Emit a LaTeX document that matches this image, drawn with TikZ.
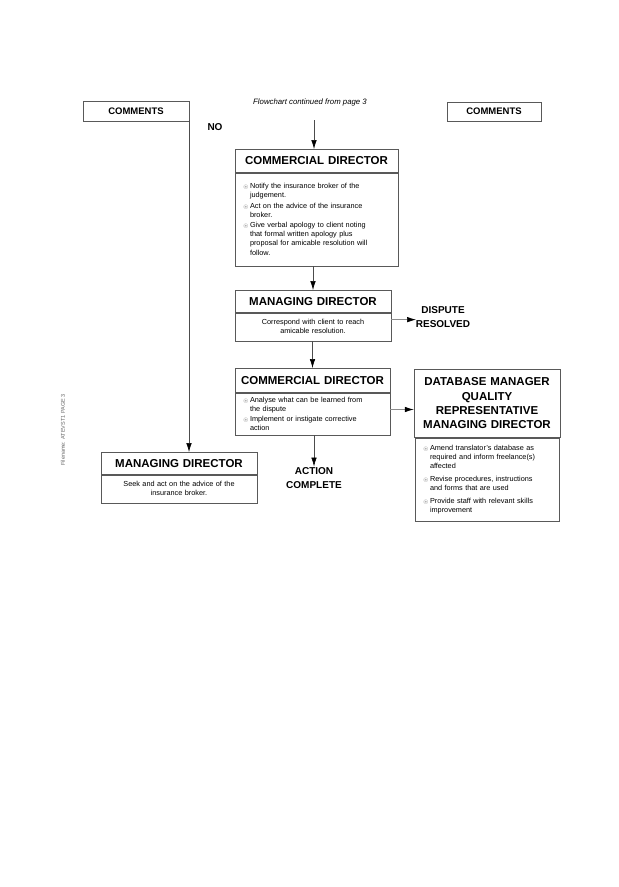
\documentclass[tikz,border=0pt]{standalone}
\usepackage{fontspec}
\setmainfont{Liberation Sans}
\usepackage{amssymb}
\usetikzlibrary{arrows.meta,calc,positioning}

\newcommand{\headfont}{\fontsize{11.5}{14.3}\selectfont\bfseries}
\newcommand{\bodyfont}{\fontsize{7.3}{9.2}\selectfont}
\newcommand{\bul}{{\color{black!55}$\scriptstyle\circledast$}}
\newcommand{\itm}[2][1pt]{\vspace{#1}\leftskip=7pt\noindent\hskip-7pt\hbox to 7pt{\bul\hss}#2\par}

\tikzset{
  flow/.style={-{Latex[length=9pt,width=5.5pt,color=black]}, line width=0.6pt, draw=black!70},
  flowh/.style={flow, draw=black!45},
  hbox/.style={draw=black!65, line width=0.5pt, align=center, inner xsep=5pt, inner ysep=1pt, font=\headfont},
  bbox/.style={draw=black!65, line width=0.5pt, inner xsep=8pt, inner ysep=2pt, font=\bodyfont},
  label/.style={font=\fontsize{10}{13.5}\selectfont\bfseries, align=center, inner sep=1pt}
}

\begin{document}
\begin{tikzpicture}[x=1pt, y=-1pt]
	\useasboundingbox (0,0) rectangle (619,887);
	
	% comment columns
	\node[draw=black!65, line width=0.5pt, minimum width=106pt, minimum height=20pt, font=\fontsize{9.5}{11}\selectfont\bfseries] (com1) at (136,111) {COMMENTS};
	\node[draw=black!65, line width=0.5pt, minimum width=94pt, minimum height=19pt, font=\fontsize{9.5}{11}\selectfont\bfseries] (com2) at (494,111.5) {COMMENTS};
	\node[font=\fontsize{7.8}{9}\selectfont\itshape] (cont) at (310,102) {Flowchart continued from page 3};
	\node[label] (no) at (215,127) {NO};
	\node[font=\fontsize{5.5}{6}\selectfont, text=black!60, rotate=90] (side) at (63,430) {Filename: ATEVST1 PAGE 3};
	
	% commercial director (1)
	\node[hbox, anchor=north, text width=153pt, minimum height=23pt] (cd1h) at (316.5,149) {COMMERCIAL DIRECTOR};
	\node[bbox, below=0pt of cd1h, text width=147pt, minimum height=93pt, align=left] (cd1b) {%
		\itm[0pt]{Notify the insurance broker of the\\judgement.}
		\itm{Act on the advice of the insurance\\broker.}
		\itm{Give verbal apology to client noting\\that formal written apology plus\\proposal for amicable resolution will\\follow.}};
	
	% managing director
	\node[hbox, anchor=north, text width=146pt, minimum height=22pt] (mdh) at (313,290) {MANAGING DIRECTOR};
	\node[bbox, below=0pt of mdh, text width=140pt, minimum height=28pt, align=center] (mdb) {Correspond with client to reach\\amicable resolution.};
	\node[label] (res) at (443,317) {DISPUTE\\RESOLVED};
	
	% commercial director (2)
	\node[hbox, anchor=north, text width=145pt, minimum height=24pt] (cd2h) at (312.5,368) {COMMERCIAL DIRECTOR};
	\node[bbox, below=0pt of cd2h, text width=139pt, minimum height=42pt, align=left] (cd2b) {%
		\itm[0pt]{Analyse what can be learned from\\the dispute}
		\itm{Implement or instigate corrective\\action}};
	\node[label] (done) at (314,478) {ACTION\\COMPLETE};
	
	% database manager etc.
	\node[hbox, anchor=north, text width=136pt, minimum height=68pt] (dbh) at (487,369) {DATABASE MANAGER\\QUALITY\\REPRESENTATIVE\\MANAGING DIRECTOR};
	\node[bbox, below=0pt of dbh, text width=128pt, minimum height=83pt, align=left] (dbb) {%
		\itm[0pt]{Amend translator's database as\\required and inform freelance(s)\\affected}
		\itm[3.5pt]{Revise procedures, instructions\\and forms that are used}
		\itm[3.5pt]{Provide staff with relevant skills\\improvement}};
	
	% managing director (NO branch)
	\node[hbox, anchor=north, text width=146pt, minimum height=22pt] (md2h) at (179,452) {MANAGING DIRECTOR};
	\node[bbox, below=0pt of md2h, text width=140pt, minimum height=28pt, align=center] (md2b) {Seek and act on the advice of the\\insurance broker.};
	
	% connectors
	\coordinate (topin) at (314,120);
	\coordinate (nofrom) at (189,120);
	\coordinate (resin) at (416,320);
	\draw[flow] (topin) -- (topin |- cd1h.north);
	\draw[flow] (mdh.north |- cd1b.south) -- (mdh.north);
	\draw[flow] (cd2h.north |- mdb.south) -- (cd2h.north);
	\draw[flow] (done.north |- cd2b.south) -- (done.north);
	\draw[flow] (nofrom) -- (nofrom |- md2h.north);
	\draw[flowh] ($(mdh.south east)!0.5!(mdb.east)$) coordinate (m1) -- (m1 -| resin);
	\draw[flowh] ($(cd2b.north east)!0.8!(cd2b.east)$) coordinate (c1) -- (c1 -| dbh.west);
\end{tikzpicture}
\end{document}
